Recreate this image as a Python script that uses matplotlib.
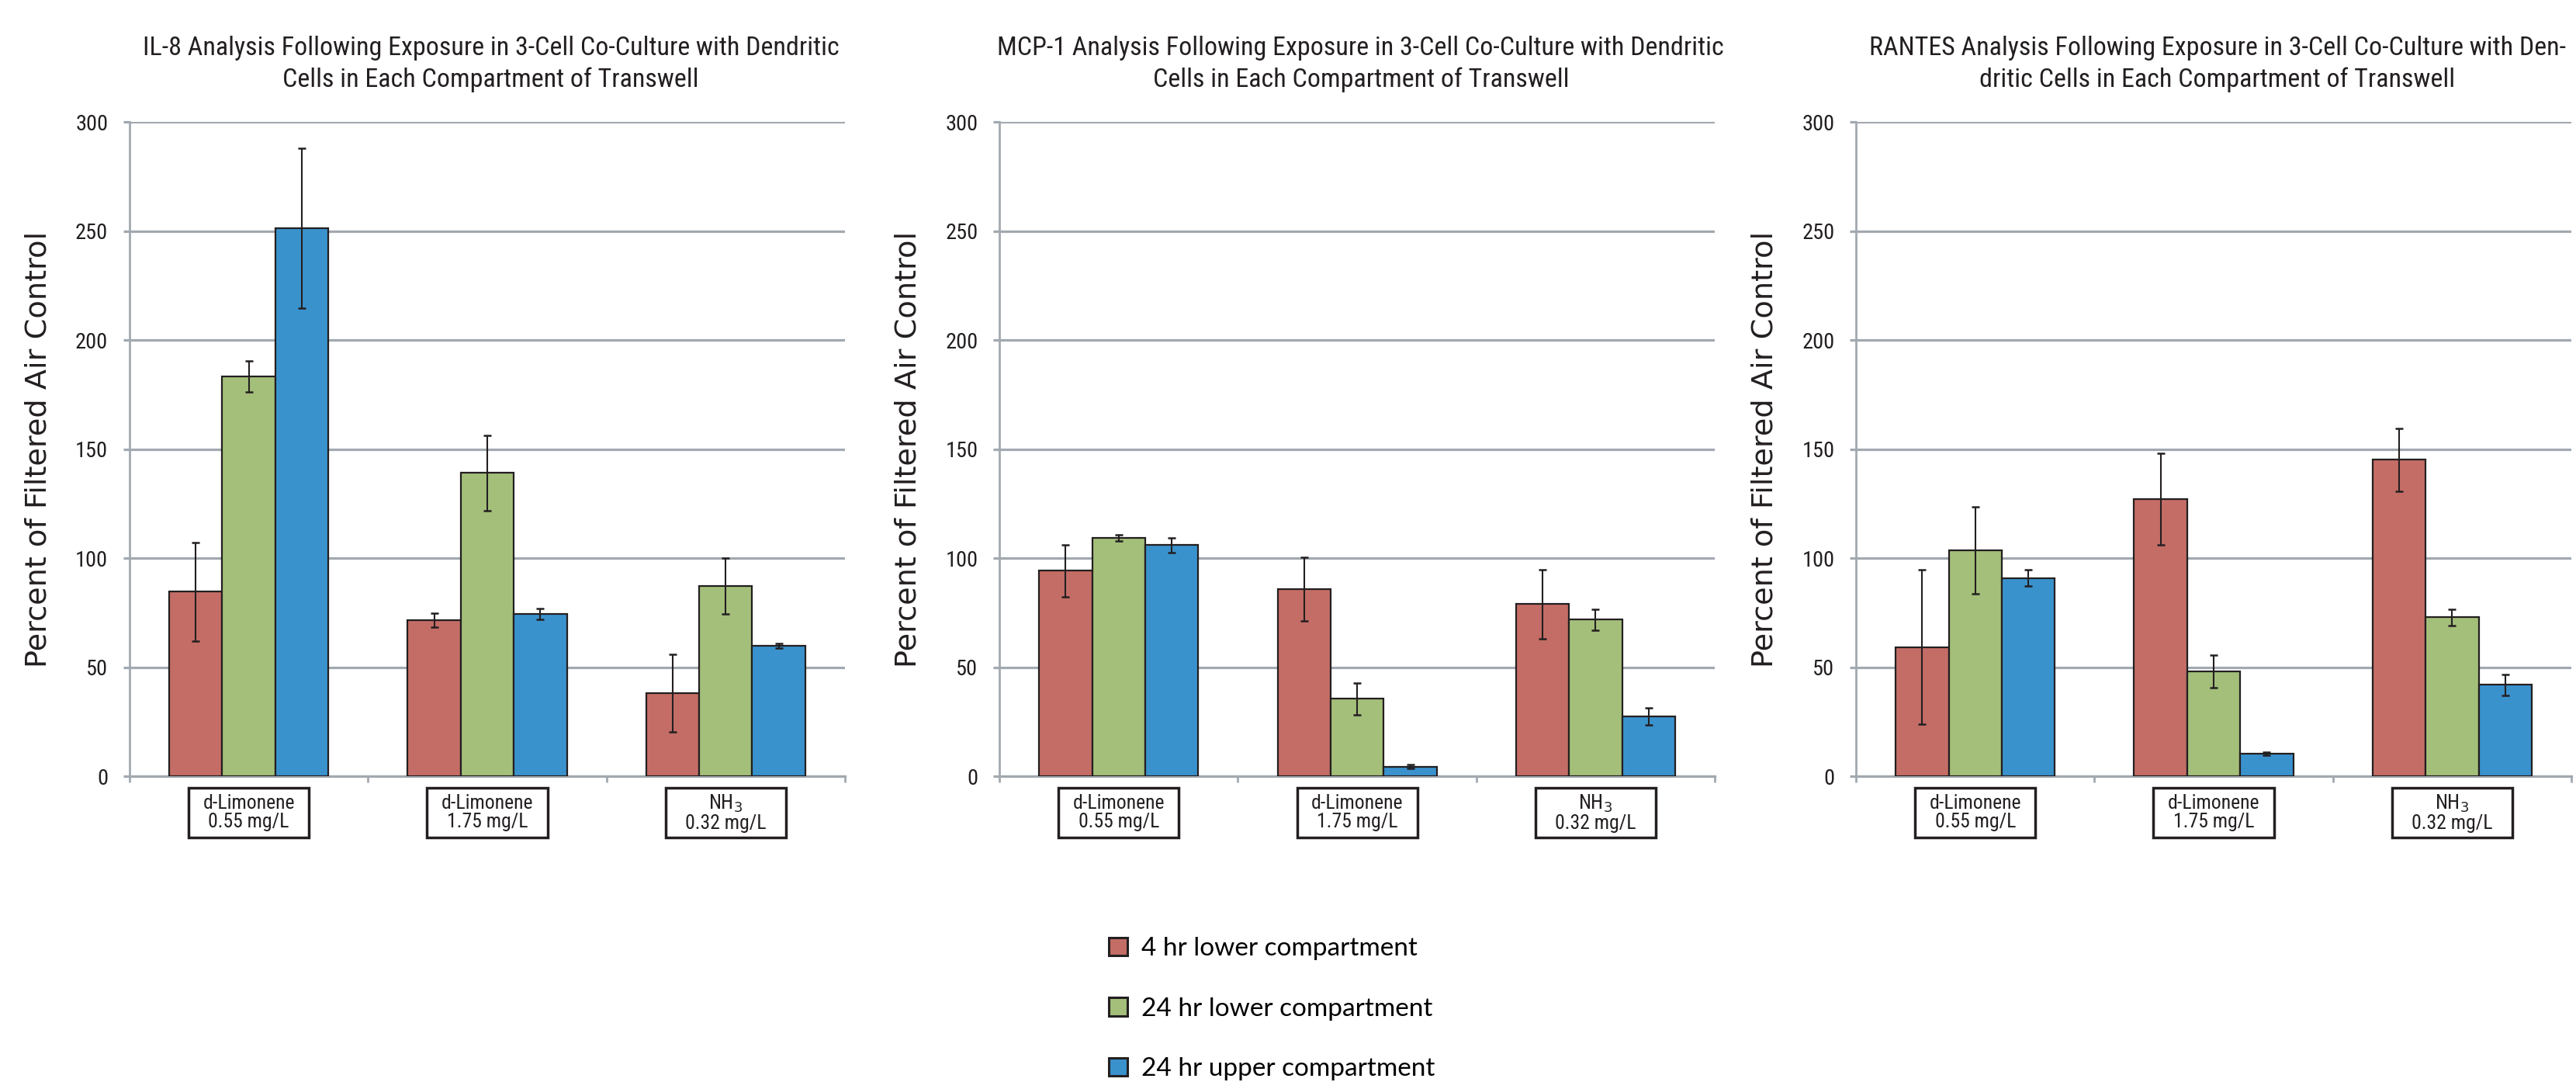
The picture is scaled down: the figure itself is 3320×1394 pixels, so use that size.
import numpy as np
import matplotlib
matplotlib.use("Agg")
from matplotlib import pyplot as plt
from matplotlib import font_manager
from matplotlib.patches import Patch, Rectangle
from matplotlib.transforms import blended_transform_factory

# data (percent of filtered air control)
categories = ["d-Limonene\n0.55 mg/L", "d-Limonene\n1.75 mg/L", "NH$_3$\n0.32 mg/L"]
series = ["4 hr lower compartment", "24 hr lower compartment", "24 hr upper compartment"]
colors = ["#C46D66", "#A4BF7A", "#3A92CD"]

titles = [
    ["IL-8 Analysis Following Exposure in 3-Cell Co-Culture with Dendritic",
     "Cells in Each Compartment of Transwell"],
    ["MCP-1 Analysis Following Exposure in 3-Cell Co-Culture with Dendritic",
     "Cells in Each Compartment of Transwell"],
    ["RANTES Analysis Following Exposure in 3-Cell Co-Culture with Den-",
     "dritic Cells in Each Compartment of Transwell"],
]

# IL-8
il8_4lower = [84.6, 71.5, 38.1]
il8_24lower = [183.3, 139.0, 87.2]
il8_24upper = [251.4, 74.4, 59.9]
il8_4lower_err = [22.7, 3.3, 17.7]
il8_24lower_err = [7.1, 17.4, 12.9]
il8_24upper_err = [36.7, 2.6, 1.0]

# MCP-1
mcp1_4lower = [94.2, 85.8, 78.9]
mcp1_24lower = [109.3, 35.5, 71.8]
mcp1_24upper = [105.9, 4.4, 27.4]
mcp1_4lower_err = [11.8, 14.6, 15.9]
mcp1_24lower_err = [1.3, 7.2, 4.7]
mcp1_24upper_err = [3.3, 0.8, 3.9]

# RANTES
rantes_4lower = [59.2, 127.0, 145.1]
rantes_24lower = [103.6, 48.2, 72.8]
rantes_24upper = [90.9, 10.3, 41.9]
rantes_4lower_err = [35.4, 21.0, 14.3]
rantes_24lower_err = [20.0, 7.5, 3.9]
rantes_24upper_err = [3.7, 0.8, 4.7]

panels = [
    ([il8_4lower, il8_24lower, il8_24upper], [il8_4lower_err, il8_24lower_err, il8_24upper_err]),
    ([mcp1_4lower, mcp1_24lower, mcp1_24upper], [mcp1_4lower_err, mcp1_24lower_err, mcp1_24upper_err]),
    ([rantes_4lower, rantes_24lower, rantes_24upper], [rantes_4lower_err, rantes_24lower_err, rantes_24upper_err]),
]

# pick a narrow font if one is installed, the original uses a condensed face
installed = {f.name for f in font_manager.fontManager.ttflist}
narrow_name = "DejaVu Sans"
for cand in ["Liberation Sans Narrow", "Roboto Condensed", "DejaVu Sans Condensed",
             "Open Sans Condensed", "Noto Sans Condensed", "Arial Narrow"]:
    if cand in installed:
        narrow_name = cand
        break
narrow = [narrow_name, "DejaVu Sans"]
stretch = "condensed"
grid_col = "#A2A9B0"
ink = "#231F20"

fig = plt.figure(figsize=(33.2, 13.94), dpi=100)
renderer = fig.canvas.get_renderer()
lefts = [0.0503, 0.388, 0.7205]

# size the title font so the first IL-8 line spans about 900 px like the original
probe = fig.text(0, 0, titles[0][0], fontsize=23, family=narrow, fontstretch=stretch)
title_size = 23 * 900.0 / probe.get_window_extent(renderer).width
probe.remove()
probe = fig.text(0, 0, "300", fontsize=21, family=narrow, fontstretch=stretch)
tick_size = 21 * 42.0 / probe.get_window_extent(renderer).width
probe.remove()
probe = fig.text(0, 0, "d-Limonene", fontsize=13, family=narrow, fontstretch=stretch)
cat_size = 13 * 118.0 / probe.get_window_extent(renderer).width
probe.remove()

x = np.arange(len(categories))
w = 0.2225

for k, (vals, errs) in enumerate(panels):
    ax = fig.add_axes([lefts[k], 0.2826, 0.2777, 0.6047])
    for j in range(3):
        ax.bar(x + (j - 1) * w, vals[j], w, color=colors[j], edgecolor=ink,
               linewidth=1.6, zorder=3)
        ax.errorbar(x + (j - 1) * w, vals[j], yerr=errs[j], fmt="none", ecolor=ink,
                    elinewidth=1.5, capsize=3.5, capthick=1.8, zorder=4)

    ax.set_ylim(0, 300)
    ax.set_xlim(-0.5, 2.5)
    ax.set_yticks(np.arange(0, 301, 50))
    ax.yaxis.grid(True, color=grid_col, linewidth=2.3, zorder=0)
    ax.set_axisbelow(True)
    for s in ["top", "right"]:
        ax.spines[s].set_visible(False)
    ax.spines["left"].set_color(grid_col)
    ax.spines["left"].set_linewidth(2)
    ax.spines["bottom"].set_color(grid_col)
    ax.spines["bottom"].set_linewidth(2.3)
    ax.tick_params(axis="y", direction="out", length=6, width=2.3, color=grid_col,
                   pad=14, labelsize=tick_size, labelcolor=ink)
    for lab in ax.get_yticklabels():
        lab.set_family(narrow)
        lab.set_stretch(stretch)
    ax.set_xticks([])
    ax.set_xticks([-0.5, 0.5, 1.5, 2.5], minor=True)
    ax.tick_params(axis="x", which="minor", direction="out", length=6, width=2, color=grid_col)

    ax.set_ylabel("Percent of Filtered Air Control", fontsize=27.5, color=ink,
                  family="DejaVu Sans")
    ax.yaxis.set_label_coords(-0.108, 0.5)

    # two title lines placed one under the other
    ax.text(0.505, 1.1127, titles[k][0], transform=ax.transAxes, ha="center", va="center",
            fontsize=title_size, family=narrow, fontstretch=stretch, color=ink)
    ax.text(0.505, 1.064, titles[k][1], transform=ax.transAxes, ha="center", va="center",
            fontsize=title_size, family=narrow, fontstretch=stretch, color=ink)

    # boxed category labels under the axis
    tr = blended_transform_factory(ax.transData, ax.transAxes)
    for i, cat in enumerate(categories):
        ax.add_patch(Rectangle((x[i] - 0.2525, -0.0937), 0.505, 0.0759, transform=tr,
                               facecolor="white", edgecolor=ink, linewidth=2.5,
                               clip_on=False))
        ax.text(x[i], -0.0558, cat, transform=tr, ha="center", va="center",
                fontsize=cat_size, family=narrow, fontstretch=stretch, color=ink,
                linespacing=1.0)

handles = [Patch(facecolor=c, edgecolor=ink, linewidth=2.2) for c in colors]
fig.legend(handles, series, loc="upper left", bbox_to_anchor=(0.4305, 0.134),
           frameon=False, handlelength=0.7, handleheight=0.7,
           handletextpad=0.55, labelspacing=1.42, borderpad=0, borderaxespad=0,
           prop={"family": "Lato", "size": 24})

fig.savefig("out.png", dpi=100)
